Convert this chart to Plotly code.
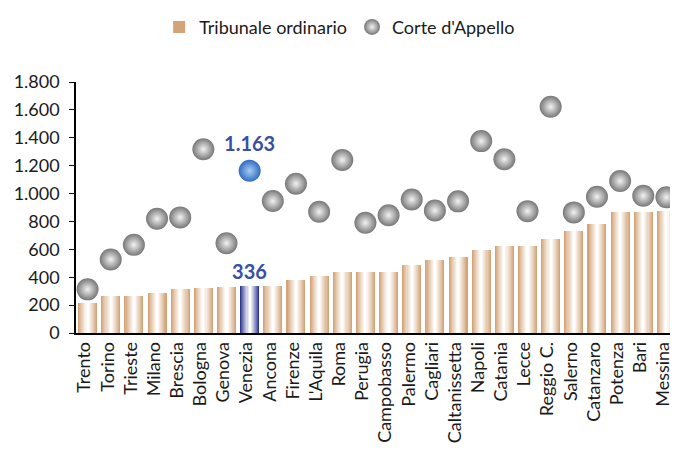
import plotly.graph_objects as go

cities = ["Trento", "Torino", "Trieste", "Milano", "Brescia", "Bologna", "Genova", "Venezia",
          "Ancona", "Firenze", "L'Aquila", "Roma", "Perugia", "Campobasso", "Palermo", "Cagliari",
          "Caltanissetta", "Napoli", "Catania", "Lecce", "Reggio C.", "Salerno", "Catanzaro",
          "Potenza", "Bari", "Messina"]
tribunale = [214, 265, 265, 286, 315, 326, 332, 336, 336, 378, 409, 435, 435, 435, 486, 522,
             543, 594, 622, 622, 673, 730, 781, 867, 867, 874]
corte = [313, 527, 632, 819, 829, 1318, 644, 1163, 946, 1071, 869, 1241, 790, 845, 958, 879,
         944, 1376, 1246, 874, 1622, 865, 977, 1090, 984, 973]
highlight = "Venezia"
y_ticks = [0, 200, 400, 600, 800, 1000, 1200, 1400, 1600, 1800]

FONT = "Lato"
LABEL_BLUE = "#3a4ea6"


def fmt(v):
    return f"{v:,}".replace(",", ".")


def mix(c1, c2, t):
    a = [int(c1[i:i + 2], 16) for i in (1, 3, 5)]
    b = [int(c2[i:i + 2], 16) for i in (1, 3, 5)]
    return "#" + "".join(f"{round(x + (y - x) * t):02x}" for x, y in zip(a, b))


tan_edge, blue_edge, white = "#d2a478", "#2e3892", "#ffffff"
fig = go.Figure()

n_layers = 9
full_w = 0.82
for i in range(n_layers):
    t = i / (n_layers - 1)
    w = full_w * (1 - i / n_layers)
    cols = [mix(blue_edge if c == highlight else tan_edge, white, t ** 0.9) for c in cities]
    fig.add_trace(go.Bar(
        x=cities, y=tribunale, width=[w] * len(cities),
        marker=dict(color=cols, line=dict(width=0)),
        name="Tribunale ordinario", showlegend=(i == 0),
        legendgroup="trib", legendrank=1,
        text=[fmt(v) if c == highlight else "" for c, v in zip(cities, tribunale)] if i == 0 else None,
        textposition="outside", cliponaxis=False, constraintext="none",
        textfont=dict(family=FONT, size=20, color=LABEL_BLUE, weight="bold"),
        hoverinfo="skip" if i else None,
    ))

fig.add_trace(go.Scatter(
    x=cities, y=corte, mode="markers+text", name="Corte d'Appello", legendrank=2,
    marker=dict(size=22,
                color=["#2f6cc2" if c == highlight else "#777777" for c in cities],
                gradient=dict(type="radial",
                              color=["#a9cdf5" if c == highlight else "#f2f2f2" for c in cities]),
                line=dict(width=0)),
    text=[fmt(v) if c == highlight else "" for c, v in zip(cities, corte)],
    textposition="top center", cliponaxis=False,
    textfont=dict(family=FONT, size=20, color=LABEL_BLUE, weight="bold"),
))

# page body has an 8px default margin: size the figure to fill the remaining window
fig.update_layout(
    width=670, height=446, barmode="overlay", bargap=0,
    separators=",.",
    paper_bgcolor="white", plot_bgcolor="white",
    margin=dict(l=68, r=0, t=74, b=121, autoexpand=False),
    font=dict(family=FONT, size=18, color="#1a1a1a"),
    legend=dict(orientation="h", xref="container", yref="container", x=0.495, y=0.957,
                xanchor="center", yanchor="middle", font=dict(size=18),
                itemwidth=30, traceorder="normal"),
    xaxis=dict(type="category", range=[-0.5, len(cities) - 0.5], tickangle=-90,
               showline=True, linecolor="black", linewidth=1.5, ticklabelshift=-3,
               ticks="", showgrid=False, tickfont=dict(size=18), automargin=False),
    yaxis=dict(range=[0, 1800], tickvals=y_ticks, ticktext=[fmt(v) for v in y_ticks],
               showline=True, linecolor="black", linewidth=1.5, ticks="outside", ticklen=5,
               tickcolor="black", showgrid=False, zeroline=False, automargin=False,
               ticklabelstandoff=6),
)

fig.write_html("out.html")
